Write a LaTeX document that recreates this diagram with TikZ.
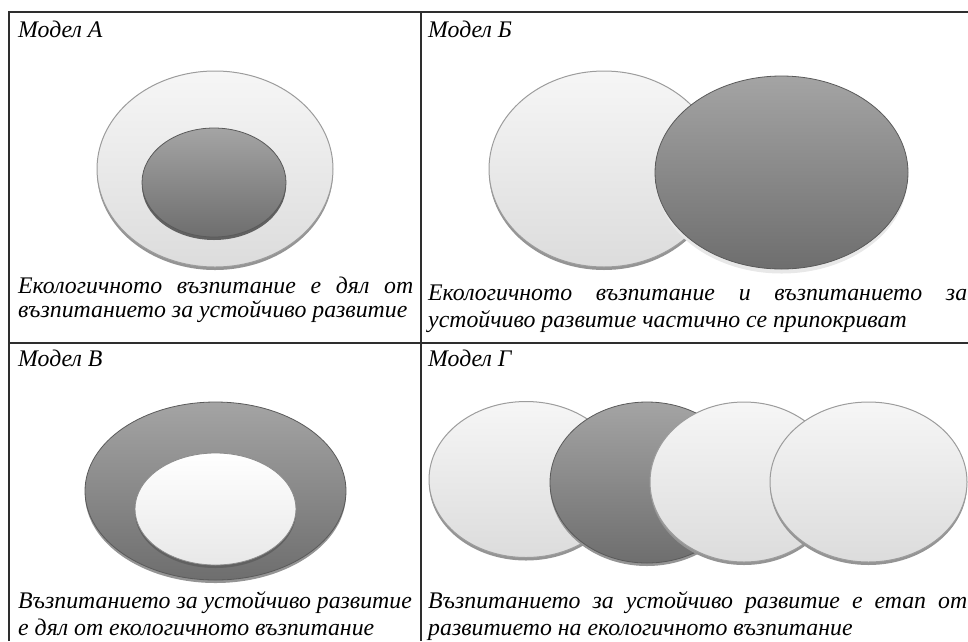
\documentclass[tikz,border=0pt]{standalone}
\usepackage{fontspec}
\setmainfont{Liberation Serif}
\definecolor{litetop}{HTML}{F6F6F6}
\definecolor{litebot}{HTML}{DCDCDC}
\definecolor{liteedge}{HTML}{9C9C9C}
\definecolor{darktop}{HTML}{A4A4A4}
\definecolor{darkbot}{HTML}{6E6E6E}
\definecolor{darkedge}{HTML}{5A5A5A}
\definecolor{rule}{HTML}{2E2E2E}
\tikzset{
  lite/.style={top color=litetop, bottom color=litebot, draw=liteedge, line width=1pt},
  darkdisk/.style={top color=darktop, bottom color=darkbot, draw=darkedge, line width=0.8pt},
  whitedisk/.style={top color=white, bottom color=black!9, draw=black!45, line width=0.8pt},
  rimlite/.style={fill=black!42},
  rimdark/.style={fill=black!62},
  title/.style={anchor=base west, inner sep=0pt, font=\fontsize{23.8}{24}\selectfont\itshape},
  caption/.style={anchor=base west, inner sep=0pt, align=justify,
    font=\fontsize{23.8}{#1}\selectfont\itshape}
}
\begin{document}
\begin{tikzpicture}[x=1pt,y=-1pt]
  \useasboundingbox (0,0) rectangle (968,641);
  % table rules
  \draw[rule, line width=1.2pt] (9,641) -- (9,12) -- (968,12);
  \draw[rule, line width=1.2pt] (421,12) -- (421,641);
  \draw[rule, line width=1.2pt] (9,343) -- (968,343);
  % Model A: one disk inside the other
  \coordinate (A1) at (215,169);
  \coordinate (A2) at (214,182.5);
  \fill[rimlite] ([yshift=-3pt]A1) ellipse [x radius=118pt, y radius=98pt];
  \shade[lite] (A1) ellipse [x radius=118pt, y radius=98pt];
  \fill[rimdark] ([yshift=-3pt]A2) ellipse [x radius=72pt, y radius=54.5pt];
  \shade[darkdisk] (A2) ellipse [x radius=72pt, y radius=54.5pt];
  % Model B: two disks overlap
  \coordinate (B1) at (604,169);
  \coordinate (B2) at (781.5,172.5);
  \fill[rimlite] ([yshift=-3pt]B1) ellipse [x radius=115pt, y radius=98pt];
  \shade[lite] (B1) ellipse [x radius=115pt, y radius=98pt];
  \fill[black!9] ([yshift=-5pt]B2) ellipse [x radius=126pt, y radius=96pt];
  \shade[darkdisk] (B2) ellipse [x radius=126.5pt, y radius=96.5pt];
  % Model V: light disk inside the dark one
  \coordinate (C1) at (215.5,491);
  \coordinate (C2) at (215.5,509);
  \fill[rimlite] ([yshift=-3pt]C1) ellipse [x radius=130.5pt, y radius=89pt];
  \shade[darkdisk] (C1) ellipse [x radius=130.5pt, y radius=89pt];
  \fill[rimdark] ([yshift=-3pt]C2) ellipse [x radius=80.5pt, y radius=56pt];
  \shade[whitedisk] (C2) ellipse [x radius=80.5pt, y radius=56pt];
  % Model G: a row of stages
  \coordinate (D1) at (526,479.5);
  \coordinate (D2) at (647,482.5);
  \coordinate (D3) at (744,482);
  \coordinate (D4) at (868.5,482);
  \fill[rimlite] ([yshift=-3pt]D1) ellipse [x radius=97pt, y radius=78pt];
  \shade[lite] (D1) ellipse [x radius=97pt, y radius=78pt];
  \fill[rimlite] ([yshift=-3pt]D2) ellipse [x radius=97pt, y radius=80.5pt];
  \shade[darkdisk] (D2) ellipse [x radius=97pt, y radius=80.5pt];
  \fill[rimlite] ([yshift=-3pt]D3) ellipse [x radius=94pt, y radius=80pt];
  \shade[lite] (D3) ellipse [x radius=94pt, y radius=80pt];
  \fill[rimlite] ([yshift=-3pt]D4) ellipse [x radius=98.5pt, y radius=80pt];
  \shade[lite] (D4) ellipse [x radius=98.5pt, y radius=80pt];
  % titles
  \node[title] (tA) at (18,37) {Модел А};
  \node[title] (tB) at (428,37) {Модел Б};
  \node[title] (tC) at (18,366) {Модел В};
  \node[title] (tD) at (428,366) {Модел Г};
  % captions
  \node[caption=24, text width=395pt] (cA) at (18,293)
    {Екологичното възпитание е дял от\linebreak възпитанието за устойчиво развитие};
  \node[caption=27, text width=539pt] (cB) at (428,300)
    {Екологичното възпитание и възпитанието за\linebreak устойчиво развитие частично се припокриват};
  \node[caption=27, text width=395pt] (cC) at (18,608)
    {Възпитанието за устойчиво развитие\\ е дял от екологичното възпитание};
  \node[caption=27, text width=539pt] (cD) at (428,608)
    {Възпитанието за устойчиво развитие е етап от\linebreak развитието на екологичното възпитание};
\end{tikzpicture}
\end{document}
